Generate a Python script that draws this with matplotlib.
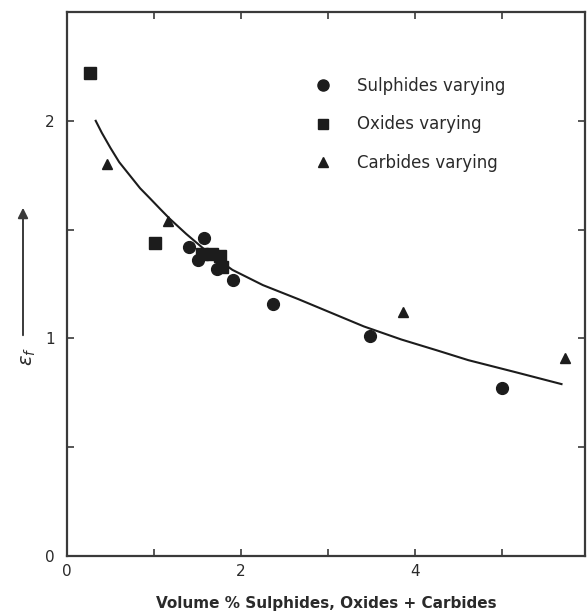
import matplotlib
matplotlib.use("Agg")
import matplotlib.pyplot as plt
from matplotlib.lines import Line2D
from matplotlib.patches import FancyArrowPatch

# Fracture strain vs. volume % of second-phase particles
sulphide_x = [1.40, 1.57, 1.50, 1.72, 1.91, 2.37, 3.48, 5.00]
sulphide_y = [1.42, 1.46, 1.36, 1.32, 1.27, 1.16, 1.01, 0.77]

oxide_x = [0.27, 1.01, 1.55, 1.66, 1.76, 1.78]
oxide_y = [2.22, 1.44, 1.39, 1.39, 1.38, 1.33]

carbide_x = [0.46, 1.16, 3.86, 5.72]
carbide_y = [1.80, 1.54, 1.12, 0.91]

# Trend curve through the data
curve_x = [0.33, 0.40, 0.50, 0.60, 0.73, 0.84, 0.95, 1.07, 1.18, 1.37,
           1.62, 1.90, 2.25, 2.66, 3.05, 3.41, 3.84, 4.25, 4.61, 5.15, 5.68]
curve_y = [2.00, 1.945, 1.875, 1.81, 1.745, 1.69, 1.645, 1.595, 1.55, 1.48,
           1.395, 1.315, 1.245, 1.18, 1.115, 1.055, 0.995, 0.945, 0.90,
           0.845, 0.79]

x_ticks = [0, 1, 2, 3, 4, 5]
x_tick_labels = ["0", "", "2", "", "4", ""]
y_ticks = [0, 0.5, 1, 1.5, 2]
y_tick_labels = ["0", "", "1", "", "2"]

legend_labels = ["Sulphides varying", "Oxides varying", "Carbides varying"]

ink = "#1c1c1c"
frame = "#3a3a3a"
text_col = "#2a2a2a"

fig = plt.figure(figsize=(5.87, 6.13), dpi=100)
ax = fig.add_axes([0.1141, 0.093, 0.8825, 0.8874])

ax.plot(curve_x, curve_y, color=ink, lw=1.5, solid_joinstyle="round")
ax.plot(sulphide_x, sulphide_y, "o", color=ink, ms=8.5, ls="none")
ax.plot(oxide_x, oxide_y, "s", color=ink, ms=8, ls="none")
ax.plot(carbide_x, carbide_y, "^", color=ink, ms=7, ls="none")

ax.set_xlim(0, 5.95)
ax.set_ylim(0, 2.5)
ax.set_xticks(x_ticks)
ax.set_xticklabels(x_tick_labels)
ax.set_yticks(y_ticks)
ax.set_yticklabels(y_tick_labels)
ax.tick_params(direction="in", length=5, width=1.2, color=frame,
               top=True, right=True, labelsize=11, labelcolor=text_col)
ax.tick_params(axis="y", pad=9)
ax.tick_params(axis="x", pad=6)
for sp in ax.spines.values():
    sp.set_linewidth(1.6)
    sp.set_color(frame)

ax.set_xlabel("Volume % Sulphides, Oxides + Carbides", fontsize=11,
              fontweight="bold", color=text_col, labelpad=12)

handles = [
    Line2D([], [], marker="o", color=ink, ls="none", ms=8),
    Line2D([], [], marker="s", color=ink, ls="none", ms=7.5),
    Line2D([], [], marker="^", color=ink, ls="none", ms=6.5),
]
ax.legend(handles, legend_labels, loc="upper left",
          bbox_to_anchor=(0.45, 0.908), frameon=False, fontsize=12,
          handlelength=1.0, handletextpad=1.5, labelspacing=1.22,
          labelcolor=text_col)

# Upward arrow and strain symbol beside the vertical axis
fig.add_artist(FancyArrowPatch(
    (23 / 587, 1 - 338 / 613), (23 / 587, 1 - 205 / 613),
    transform=fig.transFigure, arrowstyle="-|>", mutation_scale=15,
    color=frame, lw=1.4))
fig.text(28 / 587, 1 - 356 / 613, r"$\varepsilon_f$", rotation=90,
         fontsize=14, color=text_col, ha="center", va="center")

fig.savefig("out.png", dpi=100)
